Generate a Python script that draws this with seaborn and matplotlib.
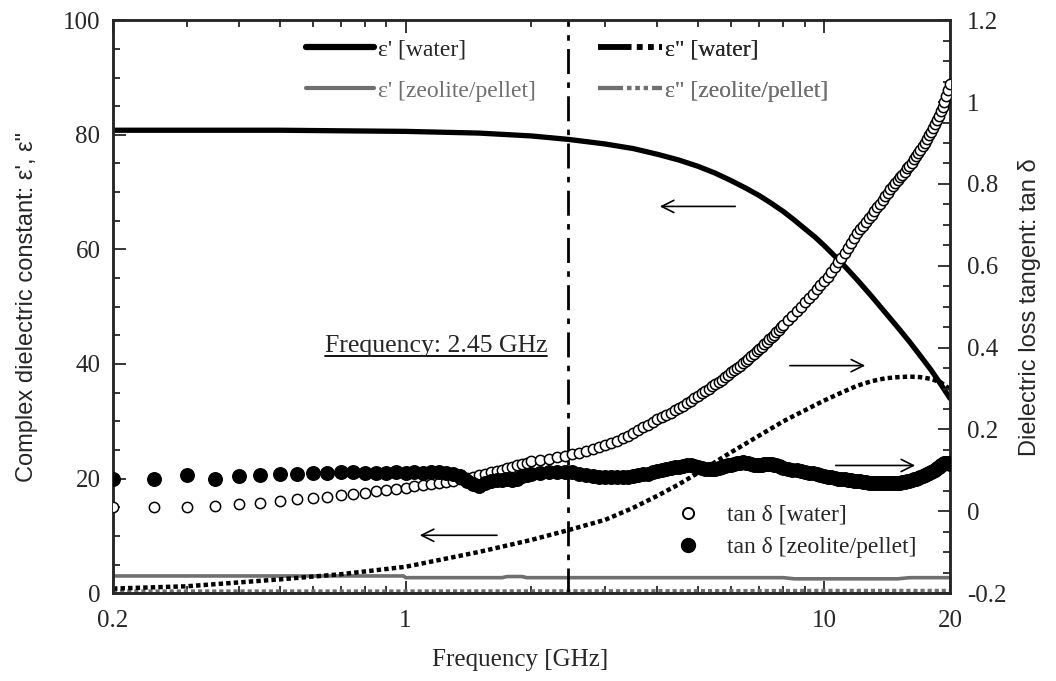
import matplotlib
matplotlib.use("Agg")
import matplotlib.pyplot as plt
import matplotlib.ticker as mticker
from matplotlib.lines import Line2D
import seaborn as sns

# epsilon' / epsilon'' of water (left axis)
f_water = [0.2, 0.3, 0.5, 0.7, 1.0, 1.5, 2.0, 2.45, 3.0, 3.5, 4.0, 4.5, 5.0, 5.5, 6.0, 6.5, 7.0,
           7.5, 8.0, 8.5, 9.0, 9.5, 10.0, 11.0, 12.0, 13.0, 14.0, 15.0, 16.0, 17.0, 18.0, 19.0, 20.0]
eps1_water = [80.8, 80.8, 80.8, 80.7, 80.6, 80.3, 79.8, 79.2, 78.4, 77.6, 76.6, 75.6, 74.5, 73.3, 72.0,
              70.7, 69.4, 68.0, 66.6, 65.1, 63.6, 62.2, 60.7, 57.7, 54.7, 51.8, 49.0, 46.4, 43.9,
              41.4, 39.0, 36.5, 34.0]
eps2_water = [0.8, 1.2, 2.4, 3.3, 4.6, 7.2, 9.3, 11.0, 12.8, 14.9, 17.0, 19.0, 21.0, 22.9, 24.6,
              26.1, 27.5, 28.8, 30.0, 31.0, 31.9, 32.8, 33.6, 35.0, 36.2, 37.0, 37.5, 37.7, 37.8,
              37.7, 37.4, 36.8, 35.6]

# epsilon' / epsilon'' of zeolite pellet
f_zeo1 = [0.2, 0.5, 0.99, 1.0, 1.7, 1.75, 1.9, 1.95, 8.0, 8.5, 15.0, 16.0, 20.0]
eps1_zeo = [3.0, 3.0, 3.0, 2.7, 2.7, 2.9, 2.9, 2.7, 2.7, 2.5, 2.5, 2.7, 2.7]
f_zeo2 = [0.2, 1.0, 5.0, 10.0, 20.0]
eps2_zeo = [0.3, 0.3, 0.35, 0.4, 0.4]

# tan delta (right axis), measured sweep
f_tan = [0.2, 0.25, 0.3, 0.35, 0.4, 0.45, 0.5, 0.55, 0.6, 0.65, 0.7, 0.75, 0.8, 0.85, 0.9, 0.95, 1.0,
         1.05, 1.1, 1.15, 1.2, 1.25, 1.3, 1.35, 1.4, 1.45, 1.5, 1.55, 1.6, 1.65, 1.7, 1.75, 1.8, 1.85, 1.9, 1.95, 2.0,
         2.1, 2.2, 2.3, 2.4, 2.5, 2.6, 2.7, 2.8, 2.9, 3.0, 3.1, 3.2, 3.3, 3.4, 3.5, 3.6, 3.7, 3.8, 3.9, 4.0,
         4.1, 4.2, 4.3, 4.4, 4.5, 4.6, 4.7, 4.8, 4.9, 5.0, 5.1, 5.2, 5.3, 5.4, 5.5, 5.6, 5.7, 5.8, 5.9, 6.0,
         6.1, 6.2, 6.3, 6.4, 6.5, 6.6, 6.7, 6.8, 6.9, 7.0, 7.1, 7.2, 7.3, 7.4, 7.5, 7.6, 7.7, 7.8, 7.9, 8.0,
         8.2, 8.4, 8.6, 8.8, 9.0, 9.2, 9.4, 9.6, 9.8, 10.0, 10.2, 10.4, 10.6, 10.8, 11.0, 11.2, 11.4, 11.6, 11.8, 12.0,
         12.2, 12.4, 12.6, 12.8, 13.0, 13.2, 13.4, 13.6, 13.8, 14.0, 14.2, 14.4, 14.6, 14.8, 15.0, 15.2, 15.4, 15.6, 15.8, 16.0,
         16.2, 16.4, 16.6, 16.8, 17.0, 17.2, 17.4, 17.6, 17.8, 18.0, 18.2, 18.4, 18.6, 18.8, 19.0, 19.2, 19.4, 19.6, 19.8, 20.0]
tan_water = [0.010, 0.010, 0.011, 0.014, 0.017, 0.021, 0.024, 0.029, 0.032, 0.036, 0.039, 0.042, 0.045, 0.049, 0.052, 0.055, 0.058,
             0.061, 0.064, 0.066, 0.069, 0.072, 0.075, 0.078, 0.082, 0.085, 0.089, 0.092, 0.095, 0.099, 0.102, 0.106, 0.109, 0.113, 0.116, 0.119, 0.122,
             0.126, 0.129, 0.132, 0.136, 0.139, 0.143, 0.147, 0.152, 0.157, 0.162, 0.168, 0.173, 0.179, 0.185, 0.191, 0.198, 0.205, 0.212, 0.219, 0.226,
             0.231, 0.236, 0.241, 0.247, 0.252, 0.258, 0.264, 0.270, 0.276, 0.282, 0.288, 0.294, 0.300, 0.306, 0.311, 0.317, 0.322, 0.328, 0.334, 0.340,
             0.345, 0.351, 0.356, 0.362, 0.367, 0.373, 0.379, 0.385, 0.391, 0.397, 0.402, 0.408, 0.414, 0.420, 0.426, 0.432, 0.438, 0.444, 0.450, 0.456,
             0.467, 0.478, 0.489, 0.500, 0.511, 0.522, 0.532, 0.543, 0.553, 0.563, 0.573, 0.584, 0.596, 0.608, 0.620, 0.632, 0.644, 0.656, 0.668, 0.680,
             0.689, 0.698, 0.707, 0.716, 0.725, 0.734, 0.743, 0.752, 0.761, 0.770, 0.779, 0.788, 0.795, 0.802, 0.809, 0.816, 0.823, 0.830, 0.838, 0.845,
             0.852, 0.860, 0.868, 0.875, 0.884, 0.892, 0.901, 0.910, 0.919, 0.928, 0.937, 0.946, 0.956, 0.966, 0.977, 0.988, 1.001, 1.015, 1.030, 1.045]
tan_zeo = [0.078, 0.080, 0.088, 0.080, 0.087, 0.089, 0.090, 0.092, 0.093, 0.094, 0.095, 0.095, 0.094, 0.093, 0.094, 0.095, 0.094,
           0.095, 0.094, 0.096, 0.095, 0.093, 0.092, 0.086, 0.075, 0.066, 0.062, 0.068, 0.075, 0.077, 0.076, 0.078, 0.077, 0.080, 0.086, 0.089, 0.090,
           0.093, 0.096, 0.097, 0.096, 0.095, 0.092, 0.088, 0.086, 0.085, 0.084, 0.083, 0.084, 0.085, 0.084, 0.086, 0.088, 0.090, 0.092, 0.095, 0.098,
           0.101, 0.103, 0.106, 0.108, 0.109, 0.110, 0.112, 0.112, 0.110, 0.108, 0.106, 0.104, 0.103, 0.103, 0.104, 0.106, 0.108, 0.110, 0.112, 0.114,
           0.116, 0.118, 0.119, 0.120, 0.119, 0.118, 0.116, 0.114, 0.113, 0.113, 0.114, 0.115, 0.116, 0.116, 0.115, 0.114, 0.112, 0.110, 0.108, 0.106,
           0.104, 0.102, 0.101, 0.098, 0.097, 0.094, 0.093, 0.090, 0.089, 0.086, 0.085, 0.083, 0.082, 0.080, 0.079, 0.078, 0.077, 0.076, 0.075, 0.074,
           0.073, 0.072, 0.071, 0.070, 0.070, 0.069, 0.068, 0.068, 0.068, 0.068, 0.068, 0.068, 0.069, 0.069, 0.070, 0.070, 0.071, 0.072, 0.074, 0.075,
           0.077, 0.078, 0.080, 0.082, 0.084, 0.086, 0.088, 0.090, 0.093, 0.095, 0.098, 0.101, 0.105, 0.108, 0.112, 0.115, 0.117, 0.118, 0.117, 0.116]

sns.set_style("ticks")
plt.rcParams["font.family"] = ["Liberation Serif", "DejaVu Serif"]
plt.rcParams["axes.unicode_minus"] = False
narrow = ["Liberation Sans Narrow", "Liberation Sans", "DejaVu Sans"]
gray = "#6f6f6f"

fig = plt.figure(figsize=(10.56, 6.81), dpi=100)
ax = fig.add_axes([0.107, 0.129, 0.7926, 0.8413])
ax2 = ax.twinx()

sns.lineplot(x=f_zeo2, y=eps2_zeo, ax=ax, color=gray, lw=3, ls=(0, (1.0, 0.7)), estimator=None)
sns.lineplot(x=f_zeo1, y=eps1_zeo, ax=ax, color=gray, lw=2.6, estimator=None)
sns.lineplot(x=f_water, y=eps2_water, ax=ax, color="black", lw=3.2, ls=(0, (1.0, 0.7)), estimator=None)
sns.lineplot(x=f_water, y=eps1_water, ax=ax, color="black", lw=3.8, estimator=None)

sns.scatterplot(x=f_tan, y=tan_water, ax=ax2, marker="o", s=55, facecolor="white",
                edgecolor="black", linewidth=1.1, zorder=3)
sns.scatterplot(x=f_tan, y=tan_zeo, ax=ax2, marker="o", s=95, color="black",
                edgecolor="black", linewidth=1, zorder=4)

ax.axvline(2.45, color="black", lw=2, ls=(0, (9, 3, 2, 3)))

ax.set_xscale("log")
ax.set_xlim(0.2, 20)
ax.set_ylim(0, 100)
ax2.set_ylim(-0.2, 1.2)
ax.set_xticks([0.2, 1, 10, 20])
ax.set_xticklabels(["0.2", "1", "10", "20"])
ax.xaxis.set_minor_locator(mticker.LogLocator(subs=range(2, 10), numticks=20))
ax.xaxis.set_minor_formatter(mticker.NullFormatter())
ax.set_yticks(range(0, 101, 20))
ax.yaxis.set_minor_locator(mticker.MultipleLocator(5))
ax2.set_yticks([-0.2, 0, 0.2, 0.4, 0.6, 0.8, 1.0, 1.2])
ax2.set_yticklabels(["-0.2", "0", "0.2", "0.4", "0.6", "0.8", "1", "1.2"])
ax2.yaxis.set_minor_locator(mticker.MultipleLocator(0.05))

ax.tick_params(which="both", direction="in", top=True, right=False, width=1.3, labelsize=18)
ax.tick_params(which="major", length=9, pad=9)
ax.tick_params(axis="x", which="major", pad=12)
ax.tick_params(which="minor", length=5)
ax2.tick_params(which="both", direction="in", width=1.3, labelsize=18)
ax2.tick_params(which="major", length=9, pad=12)
ax2.tick_params(which="minor", length=5)
for a in (ax, ax2):
    for sp in a.spines.values():
        sp.set_linewidth(1.8)

ax.set_xlabel("Frequency [GHz]", fontsize=18)
ax.xaxis.set_label_coords(0.486, -0.097)
ax.set_ylabel("Complex dielectric constant: ε', ε\"", fontsize=17, family=narrow)
ax.yaxis.set_label_coords(-0.09, 0.5)
ax2.set_ylabel("Dielectric loss tangent: tan δ", fontsize=17, family=narrow, rotation=90)
ax2.yaxis.set_label_coords(1.081, 0.5)

# arrows pointing to the axis each curve belongs to
arrow = dict(arrowstyle="->", color="black", lw=1.2, mutation_scale=22)
ax.annotate("", xy=(3.99, 67.5), xytext=(6.23, 67.5), arrowprops=arrow)
ax.annotate("", xy=(1.065, 10.1), xytext=(1.68, 10.1), arrowprops=arrow)
ax2.annotate("", xy=(12.74, 0.356), xytext=(8.16, 0.356), arrowprops=arrow)
ax2.annotate("", xy=(16.77, 0.112), xytext=(10.5, 0.112), arrowprops=arrow)

txt = ax.text(0.642, 43.1, "Frequency: 2.45 GHz", fontsize=18.5, ha="left", va="center")

# legends
h1 = [Line2D([], [], color="black", lw=4.5), Line2D([], [], color=gray, lw=3)]
leg1 = ax.legend(h1, ["ε' [water]", "ε' [zeolite/pellet]"], loc="center left",
                 bbox_to_anchor=(0.2306, 0.913), frameon=False, fontsize=17, borderpad=0,
                 borderaxespad=0, handlelength=2.9, handletextpad=0.15, labelspacing=0.85)
leg1.get_texts()[1].set_color(gray)
ax.add_artist(leg1)
h2 = [Line2D([], [], color="black", lw=4, ls=(0, (6, 1, 1, 1, 1, 1, 1, 1))),
      Line2D([], [], color=gray, lw=3, ls=(0, (6, 1, 1, 1, 1, 1, 1, 1)))]
leg2 = ax.legend(h2, ["ε\" [water]", "ε\" [zeolite/pellet]"], loc="center left",
                 bbox_to_anchor=(0.5795, 0.913), frameon=False, fontsize=17, borderpad=0,
                 borderaxespad=0, handlelength=2.7, handletextpad=0.15, labelspacing=0.85)
leg2.get_texts()[1].set_color(gray)
ax.add_artist(leg2)
h3 = [Line2D([], [], ls="none", marker="o", ms=8, mfc="white", mec="black", mew=1.4),
      Line2D([], [], ls="none", marker="o", ms=10, mfc="black", mec="black")]
ax2.legend(h3, ["tan δ [water]", "tan δ [zeolite/pellet]"], loc="center left",
           bbox_to_anchor=(0.6726, 0.108), frameon=False, fontsize=17, borderpad=0,
           borderaxespad=0, handlelength=1.0, handletextpad=1.15, labelspacing=0.45)

# underline the frequency note
fig.canvas.draw()
bb = txt.get_window_extent().transformed(ax.transAxes.inverted())
ax.plot([bb.x0, bb.x1], [bb.y0 + 0.002, bb.y0 + 0.002], transform=ax.transAxes,
        color="black", lw=1.3, clip_on=False)

fig.savefig("out.png", dpi=100)
